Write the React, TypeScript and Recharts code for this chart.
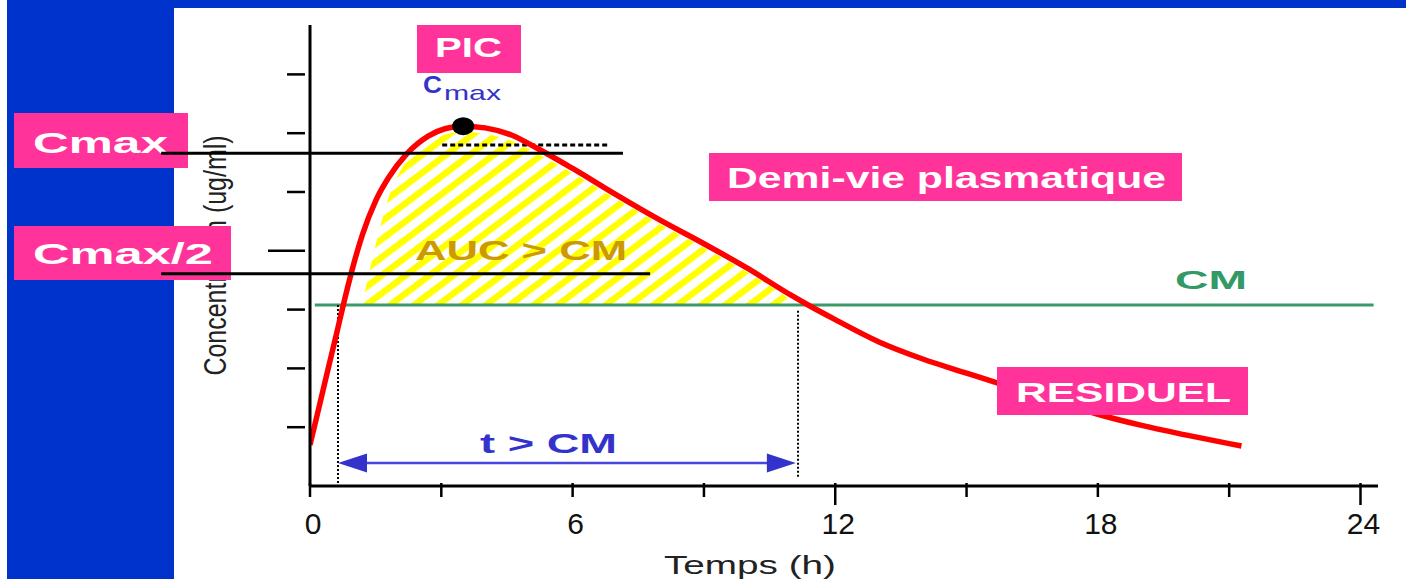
import React from 'react';
import { ComposedChart, Line, Area, XAxis, YAxis, ReferenceLine, ReferenceDot } from 'recharts';

// ---- data ----
const curveTimes = [0, 0.2, 0.4, 0.6, 0.8, 1.0, 1.2, 1.5, 1.8, 2.2, 2.7, 3.1, 3.5, 4.0, 4.6, 5.2, 6, 7, 8, 9, 10, 11, 11.4, 12, 13, 14, 15, 16, 17, 18, 19, 20, 21, 21.28];
const curveConc = [0.7, 1.32, 1.95, 2.57, 3.2, 3.78, 4.28, 4.85, 5.25, 5.64, 5.95, 6.08, 6.12, 6.09, 5.97, 5.74, 5.4, 4.95, 4.52, 4.12, 3.7, 3.24, 3.07, 2.83, 2.45, 2.16, 1.92, 1.68, 1.45, 1.22, 1.03, 0.87, 0.72, 0.68];
const hatchTimes = [1.19, 1.55, 1.8, 2.2, 2.7, 3.1, 3.5, 4.0, 4.6, 5.2, 6, 7, 8, 9, 10, 10.9, 11.1];
const hatchConc = [3.08, 4.25, 4.92, 5.52, 5.86, 5.98, 6.02, 5.99, 5.87, 5.65, 5.32, 4.88, 4.45, 4.05, 3.63, 3.2, 3.08];
const xTicks = [0, 3, 6, 9, 12, 15, 18, 21, 24];
const xLabeledTicks = [0, 6, 12, 18, 24];
const yTicks = [1, 2, 3, 4, 5, 6, 7];
const CM_LEVEL = 3.08;
const CMAX_LEVEL = 5.66;
const CMAX_HALF_LEVEL = 3.61;
const DOTTED_LEVEL = 5.8;
const PEAK_T = 3.5;
const PEAK_C = 6.12;
const T_ABOVE_START = 0.64;
const T_ABOVE_END = 11.15;
const ARROW_LEVEL = 0.39;

const rows: any[] = [];
curveTimes.forEach((t, i) => rows.push({ t, conc: curveConc[i] }));
hatchTimes.forEach((t, i) => rows.push({ t, auc: hatchConc[i] }));
rows.sort((a, b) => a.t - b.t);

const W = 1406;
const H = 579;
const FONT = "'Liberation Sans', Arial, Helvetica, sans-serif";
const PINK = '#FF3399';
const BLUE_TXT = '#3333CC';
const margin = { top: 25, right: 28, bottom: 33, left: 270 };

const XTick = (p: any) => {
  const { x, y, payload } = p;
  const v = payload.value;
  const long = v === 12 || v === 24;
  return (
    <g>
      <line x1={x} x2={x} y1={y - 3} y2={y + (long ? 19 : 11)} stroke="#000" strokeWidth={2.5} />
      {xLabeledTicks.includes(v) && (
        <text x={x + 3} y={y + 48} textAnchor="middle" fontSize={30} fontFamily={FONT} fill="#111">
          {String(v)}
        </text>
      )}
    </g>
  );
};

const YTick = (p: any) => {
  const { x, y, payload } = p;
  const len = payload.value === 4 ? 42 : 23;
  return <line x1={x - len} x2={x - 5} y1={y} y2={y} stroke="#000" strokeWidth={2.5} />;
};

const YLabel = (p: any) => {
  const vb = p.viewBox || { x: 270, y: 25, width: 40, height: 461 };
  const cx = vb.x - 55;
  const cy = vb.y + vb.height / 2;
  return (
    <text
      transform={`translate(${cx},${cy}) scale(1.25,1) rotate(-90)`}
      textAnchor="middle"
      dominantBaseline="central"
      fontSize={25}
      fontFamily={FONT}
      fill="#222"
    >
      Concentration (ug/ml)
    </text>
  );
};

const XLabel = (p: any) => {
  const vb = p.viewBox || { x: 310, y: 486, width: 1068, height: 60 };
  return (
    <text x={vb.x + 354} y={vb.y + 88} textLength={172} lengthAdjust="spacingAndGlyphs" fontSize={26} fontFamily={FONT} fill="#222">
      Temps (h)
    </text>
  );
};

const ArrowShape = (p: any) => {
  const { x1, y1, x2, y2 } = p;
  const L = 29;
  const hh = 9.5;
  return (
    <g>
      <line x1={x1 + L - 2} y1={y1} x2={x2 - L + 2} y2={y2} stroke="#4646E0" strokeWidth={2.5} />
      <polygon points={`${x1},${y1} ${x1 + L},${y1 - hh} ${x1 + L},${y1 + hh}`} fill={BLUE_TXT} />
      <polygon points={`${x2},${y2} ${x2 - L},${y2 - hh} ${x2 - L},${y2 + hh}`} fill={BLUE_TXT} />
    </g>
  );
};

const PeakDot = (p: any) => <ellipse cx={p.cx} cy={p.cy} rx={11} ry={9} fill="#000" />;

const pinkBoxes = [
  { text: 'PIC', bx: 417, by: 25, bw: 104, bh: 48, tx: 435, ty: 57, fs: 28, tl: 67 },
  { text: 'Cmax', bx: 14, by: 113, bw: 174, bh: 55, tx: 33, ty: 153, fs: 30, tl: 135 },
  { text: 'Cmax/2', bx: 14, by: 226, bw: 217, bh: 54, tx: 33, ty: 264, fs: 30, tl: 180 },
  { text: 'Demi-vie plasmatique', bx: 709, by: 153, bw: 473, bh: 48, tx: 727, ty: 188, fs: 29, tl: 439 },
  { text: 'RESIDUEL', bx: 997, by: 367, bw: 251, bh: 48, tx: 1016, ty: 402, fs: 28, tl: 215 },
];

const plainTexts = [
  { text: 'AUC > CM', x: 415, y: 260, fs: 27, tl: 212, color: '#CC9900', bold: true },
  { text: 't > CM', x: 480, y: 453, fs: 28, tl: 137, color: BLUE_TXT, bold: true },
  { text: 'CM', x: 1175, y: 289, fs: 25, tl: 72, color: '#339966', bold: true },
  { text: 'C', x: 423, y: 93, fs: 23, tl: 19, color: BLUE_TXT, bold: true },
  { text: 'max', x: 444, y: 100, fs: 21, tl: 57, color: BLUE_TXT, bold: false },
];

const Overlay = () => (
  <svg width={W} height={H} style={{ position: 'absolute', left: 0, top: 0, pointerEvents: 'none' }}>
    {plainTexts.map((t) => (
      <text key={t.text} x={t.x} y={t.y} fontSize={t.fs} fontWeight={t.bold ? 'bold' : 'normal'} fontFamily={FONT} fill={t.color} textLength={t.tl} lengthAdjust="spacingAndGlyphs">
        {t.text}
      </text>
    ))}
    {pinkBoxes.map((b) => (
      <g key={b.text}>
        <rect x={b.bx} y={b.by} width={b.bw} height={b.bh} fill={PINK} />
        <text x={b.tx} y={b.ty} fontSize={b.fs} fontWeight="bold" fontFamily={FONT} fill="#fff" textLength={b.tl} lengthAdjust="spacingAndGlyphs">
          {b.text}
        </text>
      </g>
    ))}
  </svg>
);

export default function App() {
  return (
    <div style={{ position: 'absolute', left: 0, top: 0, width: W, height: H, overflow: 'hidden', background: '#fff' }}>
      <div style={{ position: 'absolute', left: 7, top: 0, width: W - 7, height: H, background: '#0033CC' }} />
      <div style={{ position: 'absolute', left: 174, top: 8, width: W - 174, height: H - 8, background: '#fff' }} />
      <div style={{ position: 'absolute', left: 0, top: 0 }}>
        <ComposedChart width={W} height={H} data={rows} margin={margin}>
          <defs>
            <pattern id="hatch" patternUnits="userSpaceOnUse" width={14.4} height={14.4} patternTransform="rotate(53)">
              <rect x={0} y={0} width={6.5} height={14.4} fill="#FFFF00" />
            </pattern>
          </defs>
          <XAxis
            dataKey="t"
            type="number"
            domain={[0, 24.4]}
            ticks={xTicks}
            allowDataOverflow
            height={60}
            tickSize={0}
            tickMargin={0}
            tickLine={false}
            axisLine={{ stroke: '#000', strokeWidth: 3 }}
            tick={(p: any) => <XTick {...p} />}
            label={(p: any) => <XLabel {...p} />}
          />
          <YAxis
            type="number"
            domain={[0, 7.84]}
            ticks={yTicks}
            allowDataOverflow
            width={40}
            tickSize={0}
            tickMargin={0}
            tickLine={false}
            axisLine={{ stroke: '#000', strokeWidth: 3 }}
            tick={(p: any) => <YTick {...p} />}
            label={(p: any) => <YLabel {...p} />}
          />
          <Area dataKey="auc" type="monotone" baseValue={CM_LEVEL} fill="url(#hatch)" fillOpacity={1} stroke="none" connectNulls isAnimationActive={false} />
          <ReferenceLine segment={[{ x: 0.11, y: CM_LEVEL }, { x: 24.3, y: CM_LEVEL }]} stroke="#3A9A68" strokeWidth={3} ifOverflow="visible" />
          <ReferenceLine segment={[{ x: T_ABOVE_START, y: CM_LEVEL }, { x: T_ABOVE_START, y: 0 }]} stroke="#000" strokeWidth={2} strokeDasharray="2 2" ifOverflow="visible" />
          <ReferenceLine segment={[{ x: T_ABOVE_END, y: 2.98 }, { x: T_ABOVE_END, y: 0.14 }]} stroke="#000" strokeWidth={2} strokeDasharray="2 2" ifOverflow="visible" />
          <ReferenceLine segment={[{ x: 3.02, y: DOTTED_LEVEL }, { x: 6.85, y: DOTTED_LEVEL }]} stroke="#000" strokeWidth={3} strokeDasharray="5 3" ifOverflow="visible" />
          <ReferenceLine segment={[{ x: T_ABOVE_START, y: ARROW_LEVEL }, { x: 11.1, y: ARROW_LEVEL }]} shape={(p: any) => <ArrowShape {...p} />} ifOverflow="visible" />
          <Line dataKey="conc" type="monotone" stroke="#FF0000" strokeWidth={5.5} dot={false} connectNulls isAnimationActive={false} />
          <ReferenceDot x={PEAK_T} y={PEAK_C} r={10} shape={(p: any) => <PeakDot {...p} />} ifOverflow="visible" />
        </ComposedChart>
      </div>
      <Overlay />
      <div style={{ position: 'absolute', left: 0, top: 0 }}>
        <ComposedChart width={W} height={H} data={rows} margin={margin}>
          <XAxis dataKey="t" type="number" domain={[0, 24.4]} allowDataOverflow height={60} tick={false} tickLine={false} axisLine={false} />
          <YAxis type="number" domain={[0, 7.84]} allowDataOverflow width={40} tick={false} tickLine={false} axisLine={false} />
          <ReferenceLine segment={[{ x: -3.4, y: CMAX_LEVEL }, { x: 7.15, y: CMAX_LEVEL }]} stroke="#000" strokeWidth={3} ifOverflow="visible" />
          <ReferenceLine segment={[{ x: -3.4, y: CMAX_HALF_LEVEL }, { x: 7.77, y: CMAX_HALF_LEVEL }]} stroke="#000" strokeWidth={3} ifOverflow="visible" />
        </ComposedChart>
      </div>
    </div>
  );
}
